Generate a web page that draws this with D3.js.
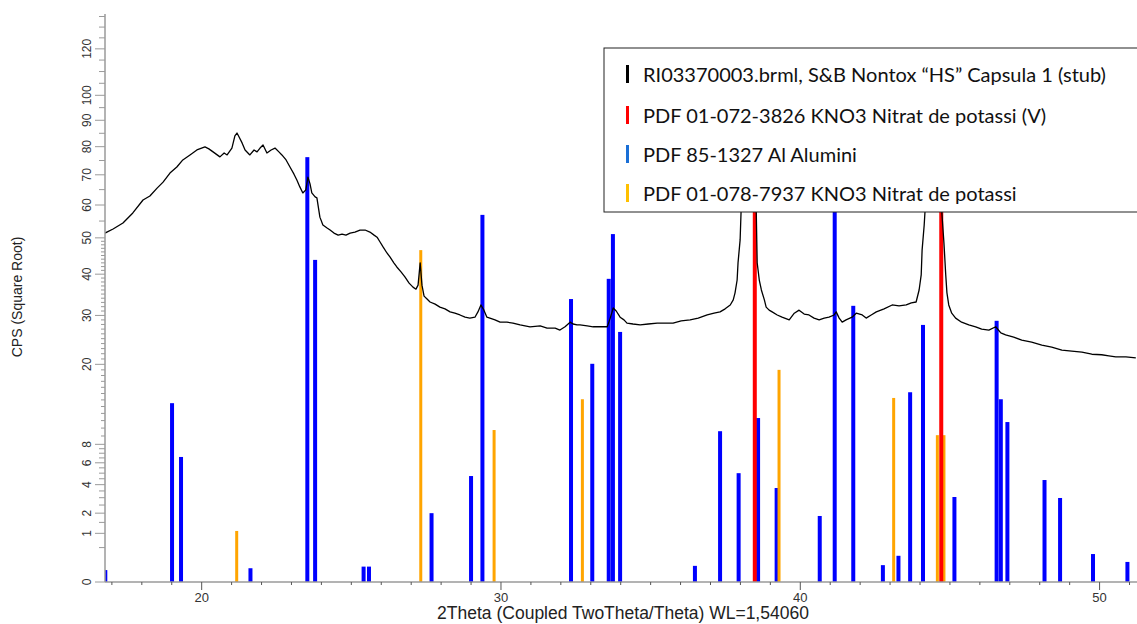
<!DOCTYPE html>
<html><head><meta charset="utf-8">
<script src="https://cdn.jsdelivr.net/npm/d3@7/dist/d3.min.js"></script>
<style>
html,body{margin:0;padding:0;background:#fff;}
svg{display:block;}
</style></head>
<body>
<svg id="chart" width="1137" height="624"></svg>
<script>
// ---- data ----
const scanTheta = [16.77,17.04,17.37,17.70,18.04,18.27,18.51,18.71,18.94,19.17,19.37,19.61,19.84,20.11,20.24,20.38,20.61,20.75,20.85,21.01,21.11,21.18,21.25,21.35,21.45,21.61,21.75,21.85,21.95,22.05,22.18,22.32,22.45,22.58,22.68,22.82,22.95,23.08,23.18,23.28,23.38,23.48,23.55,23.62,23.68,23.79,23.85,23.95,24.05,24.19,24.29,24.42,24.56,24.69,24.82,24.96,25.12,25.29,25.46,25.62,25.76,25.86,25.96,26.06,26.19,26.29,26.42,26.52,26.66,26.79,26.93,27.06,27.16,27.23,27.30,27.36,27.43,27.53,27.63,27.80,27.96,28.13,28.30,28.46,28.63,28.80,28.96,29.13,29.23,29.33,29.43,29.53,29.63,29.80,29.97,30.20,30.40,30.64,30.97,31.31,31.54,31.81,31.97,32.14,32.31,32.41,32.54,32.64,32.88,33.08,33.31,33.55,33.65,33.75,33.85,33.98,34.11,34.21,34.41,34.65,34.92,35.22,35.49,35.75,36.02,36.32,36.59,36.89,37.12,37.32,37.49,37.66,37.76,37.82,37.89,37.92,37.99,38.02,38.09,38.19,38.29,38.38,38.47,38.53,38.56,38.63,38.70,38.80,38.86,38.96,39.06,39.23,39.39,39.63,39.80,39.96,40.13,40.29,40.46,40.63,40.80,40.96,41.13,41.20,41.30,41.40,41.53,41.73,41.87,42.07,42.20,42.37,42.54,42.80,43.07,43.30,43.54,43.71,43.87,43.97,44.04,44.07,44.14,44.17,44.30,44.40,44.48,44.57,44.67,44.73,44.80,44.86,44.90,44.96,45.06,45.19,45.39,45.63,45.86,46.06,46.30,46.53,46.70,46.86,47.13,47.40,47.73,48.07,48.40,48.74,49.07,49.41,49.74,50.07,50.31,50.54,50.88,51.21];
const scanCps = [51.4,52.6,54.4,57.5,61.6,62.9,65.5,67.5,70.6,72.7,75.2,77.0,78.8,79.9,79.2,78.1,76.3,77.7,77.0,79.5,84.0,85.1,83.6,81.4,78.8,77.0,78.8,78.1,79.5,80.6,77.7,78.8,79.5,78.1,77.0,75.2,72.7,70.3,68.2,65.9,63.9,64.9,69.2,66.9,63.9,62.6,62.3,56.2,53.8,52.9,52.3,51.4,50.8,51.1,50.8,51.4,51.7,52.3,52.3,51.7,50.8,50.2,48.8,47.4,45.7,44.6,43.0,41.9,40.6,39.3,37.7,36.7,36.2,37.2,43.0,37.2,34.5,33.8,33.1,32.6,31.9,31.5,30.8,30.5,30.1,29.6,29.4,29.6,30.8,32.4,31.2,29.6,29.4,29.0,28.5,28.5,28.3,27.9,27.5,27.7,27.2,27.2,26.8,27.5,28.5,28.1,27.9,27.9,27.7,27.5,27.5,27.5,29.4,31.7,31.0,29.6,29.0,28.3,28.1,27.9,28.1,28.3,28.3,28.3,28.8,29.0,29.4,30.1,30.5,30.8,31.5,32.4,33.6,35.3,38.5,43.0,49.4,57.5,78.8,100.0,110.0,100.0,75.2,57.5,43.0,38.5,36.0,33.6,31.9,31.2,30.8,30.1,29.6,29.0,30.5,31.2,30.3,30.1,29.4,29.0,29.4,29.6,30.1,30.8,29.4,28.5,29.0,29.6,30.5,30.1,29.4,30.1,30.8,31.5,32.4,32.2,32.4,32.9,33.1,36.0,39.8,46.5,53.8,58.4,78.8,100.0,108.0,95.0,64.9,57.5,48.5,39.8,35.3,32.4,30.5,29.4,28.5,27.9,27.5,27.0,26.8,27.5,26.2,25.8,25.3,24.7,24.3,23.7,23.3,22.7,22.5,22.3,21.9,21.8,21.6,21.4,21.4,21.2];

const alTheta = [16.78,19.01,19.31,21.63,23.53,23.79,25.41,25.59,27.68,29.00,29.38,32.34,33.05,33.60,33.74,33.98,36.48,37.32,37.94,38.59,39.21,40.65,41.15,41.77,42.76,43.28,43.67,44.10,45.15,46.56,46.70,46.92,48.16,48.68,49.78,50.93];
const alCps   = [0.06,13.5,6.6,0.08,76.2,43.8,0.1,0.1,2.0,4.74,56.9,33.8,20.1,38.8,51.1,26.4,0.11,9.6,5.0,11.35,3.73,1.84,100,32.2,0.12,0.29,15.2,27.9,3.05,28.8,14.1,10.8,4.39,2.98,0.33,0.17];

const kno3Theta = [21.17,27.32,29.77,32.72,39.29,43.12,44.58,44.80];
const kno3Cps   = [1.1,46.5,9.75,14.1,19.0,14.3,9.1,9.1];

const kno3vTheta = [38.48,44.71];
const kno3vCps   = [100,100];

const yMajorTicks = [0,1,2,4,6,8,20,30,40,50,60,70,80,90,100,120];
const xMajorTicks = [20,30,40,50];

const legendLabels = ["RI03370003.brml, S&B Nontox \u201CHS\u201D Capsula 1 (stub)",
  "PDF 01-072-3826 KNO3 Nitrat de potassi (V)",
  "PDF 85-1327 Al Alumini",
  "PDF 01-078-7937 KNO3 Nitrat de potassi"];
const legendColors = ["#000000","#ff0000","#1a6fd6","#ffc000"];

// ---- drawing ----
const svg = d3.select("#chart");
const L = 105, R = 1137, T = 14, B = 582;
const x = d3.scaleLinear().domain([16.77, 51.25]).range([L, R]);
const y = d3.scaleSqrt().domain([0, 136.2]).range([B, T]);

svg.append("defs").append("clipPath").attr("id","plot")
  .append("rect").attr("x",L).attr("y",T-2).attr("width",R-L+2).attr("height",B-T+2);

const plot = svg.append("g").attr("clip-path","url(#plot)");

function sticks(th, cps, color, w){
  plot.append("g").selectAll("rect").data(th.map((t,i)=>[t,cps[i]])).join("rect")
    .attr("x", d=>x(d[0]) - w/2).attr("width", w)
    .attr("y", d=>y(d[1])).attr("height", d=>B - y(d[1]))
    .attr("fill", color);
}
sticks(alTheta, alCps, "#0000ff", 4);
sticks(kno3Theta, kno3Cps, "#ffa500", 3);
sticks(kno3vTheta, kno3vCps, "#ff0000", 4);

const line = d3.line().x(d=>x(d[0])).y(d=>y(d[1]));
plot.append("path").datum(scanTheta.map((t,i)=>[t,scanCps[i]]))
  .attr("d", line).attr("fill","none").attr("stroke","#000").attr("stroke-width",1.3)
  .attr("stroke-linejoin","round");

// axes
const axisColor = "#9a9a9a";
const labelColor = "#333";
const yMinor = [];
for (let v=0.5; v<8; v+=0.5) yMinor.push(v);
for (let v=9; v<50; v+=1) yMinor.push(v);
for (let v=55; v<=135; v+=5) yMinor.push(v);
const yMinorF = yMinor.filter(v=>!yMajorTicks.includes(v));

const ya = svg.append("g");
ya.append("line").attr("x1",L).attr("x2",L).attr("y1",T).attr("y2",B).attr("stroke",axisColor).attr("stroke-width",1.5);
ya.selectAll("line.minor").data(yMinorF).join("line").attr("class","minor")
  .attr("x1", v=> (v>8 && v<50) ? L-4 : L-6).attr("x2",L)
  .attr("y1", v=>y(v)).attr("y2", v=>y(v)).attr("stroke",axisColor);
ya.selectAll("line.major").data(yMajorTicks).join("line").attr("class","major")
  .attr("x1",L-10).attr("x2",L).attr("y1",v=>y(v)).attr("y2",v=>y(v)).attr("stroke",axisColor);
ya.selectAll("text").data(yMajorTicks).join("text")
  .attr("transform", v=>`translate(${L-18},${y(v)}) rotate(-90)`)
  .attr("text-anchor","middle").attr("dominant-baseline","central")
  .attr("font-family","Liberation Sans, Arial, sans-serif").attr("font-size",12)
  .attr("fill",labelColor).text(v=>v);

const xMinor = d3.range(17, 52).filter(v=>!xMajorTicks.includes(v));
const xa = svg.append("g");
xa.append("line").attr("x1",L).attr("x2",R).attr("y1",B).attr("y2",B).attr("stroke",axisColor).attr("stroke-width",1.5);
xa.selectAll("line.minor").data(xMinor).join("line").attr("class","minor")
  .attr("x1",v=>x(v)).attr("x2",v=>x(v)).attr("y1",B).attr("y2",B+3).attr("stroke","#555");
xa.selectAll("line.major").data(xMajorTicks).join("line").attr("class","major")
  .attr("x1",v=>x(v)).attr("x2",v=>x(v)).attr("y1",B).attr("y2",B+8).attr("stroke","#555");
xa.selectAll("text").data(xMajorTicks).join("text")
  .attr("x",v=>x(v)).attr("y",597).attr("text-anchor","middle").attr("dominant-baseline","central")
  .attr("font-family","Liberation Sans, Arial, sans-serif").attr("font-size",13)
  .attr("fill",labelColor).text(v=>v);

svg.append("text").attr("x",623).attr("y",613).attr("text-anchor","middle").attr("dominant-baseline","central")
  .attr("font-family","Liberation Sans, Arial, sans-serif").attr("font-size",17.5).attr("fill","#222")
  .text("2Theta (Coupled TwoTheta/Theta) WL=1,54060");
svg.append("text").attr("transform","translate(17,297) rotate(-90)").attr("text-anchor","middle")
  .attr("dominant-baseline","central")
  .attr("font-family","Liberation Sans, Arial, sans-serif").attr("font-size",14).attr("fill","#222")
  .text("CPS (Square Root)");

// legend
const lg = svg.append("g");
lg.append("rect").attr("x",604).attr("y",48).attr("width",540).attr("height",164)
  .attr("fill","#fff").attr("stroke","#222").attr("stroke-width",1);
const rowsY = [74,115,154,193];
lg.selectAll("rect.m").data(legendLabels).join("rect").attr("class","m")
  .attr("x",626).attr("width",3).attr("y",(d,i)=>rowsY[i]-9).attr("height",18)
  .attr("fill",(d,i)=>legendColors[i]);
lg.selectAll("text").data(legendLabels).join("text")
  .attr("x",643).attr("y",(d,i)=>rowsY[i]).attr("dominant-baseline","central")
  .attr("font-family","Lato, 'Open Sans', sans-serif").attr("font-size",20).attr("fill","#111")
  .text(d=>d);
</script>
</body></html>
